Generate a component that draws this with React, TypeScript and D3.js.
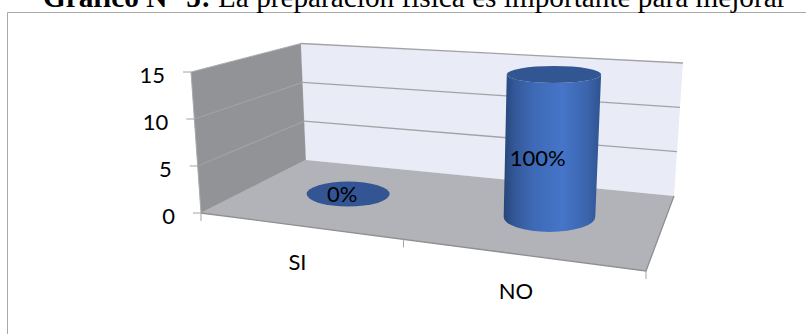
import React from "react";
import * as d3 from "d3";

// Chart content
const categories = ["SI", "NO"];
const values = [0, 15];
const percentLabels = ["0%", "100%"];
const yTicks = [0, 5, 10, 15];
const titleBold = "Gráfico N° 5:";
const titleRest = " La preparación física es importante para mejorar";

// Box corners of the 3D plot: f = front, b = back, l = left, r = right
const floorCorners = { fl: [201, 213], fr: [646, 271], bl: [306, 160], br: [674, 196] };
const topCorners = { fl: [191, 72], fr: [655, 104], bl: [301, 43.5], br: [683, 63] };

const xDepth = d3.scalePoint<string>().domain(categories).range([0.222, 0.722]);
const level = d3.scaleLinear().domain([0, 15]).range([0, 1]);
const lerp = (a: number, b: number, t: number) => a + (b - a) * t;

// Bilinear position within the box: u runs left to right, v front to back
function project(u: number, v: number, value: number): [number, number] {
  const plane = (c: typeof floorCorners) => {
    const fx = lerp(c.fl[0], c.fr[0], u);
    const fy = lerp(c.fl[1], c.fr[1], u);
    const bx = lerp(c.bl[0], c.br[0], u);
    const by = lerp(c.bl[1], c.br[1], u);
    return [lerp(fx, bx, v), lerp(fy, by, v)];
  };
  const lo = plane(floorCorners);
  const hi = plane(topCorners);
  const t = level(value);
  return [lerp(lo[0], hi[0], t), lerp(lo[1], hi[1], t)];
}

const line = d3.line();
const quad = (pts: [number, number][]) => line(pts) + "Z";

const labelFont = "Lato, 'Open Sans', sans-serif";
const labelSize = 22;
const gridColor = "#a3a3a6";
const depthV = 0.55;
const rxScale = d3.scaleLinear().domain([0.222, 0.722]).range([41.5, 45.8]);
const ryScale = d3.scaleLinear().domain([0.222, 0.722]).range([12.5, 15]);

const xTickU = [0, 0.455, 1];
const catLabelPos = [
  [297.5, 270],
  [516, 299],
];
const valueLabelOffset = [
  [-6, 7.5],
  [-14, 20],
];

function Cylinder({ u, value }: { u: number; value: number }) {
  const [bx, by] = project(u, depthV, 0);
  const [tx, ty] = project(u, depthV, value);
  const rx = rxScale(u);
  const ry = ryScale(u);
  if (value === 0) return <ellipse cx={bx} cy={by} rx={rx} ry={ry} fill="#335593" />;
  const trx = rx * 1.03;
  const tRy = ry * 0.57;
  const bodyD =
    `M${tx - trx},${ty} L${bx - rx},${by} ` +
    `A${rx},${ry} 0 0 0 ${bx + rx},${by} ` +
    `L${tx + trx},${ty} ` +
    `A${trx},${tRy} 0 0 1 ${tx - trx},${ty} Z`;
  return (
    <g>
      <path d={bodyD} fill="url(#cylinderShade)" />
      <ellipse cx={tx} cy={ty} rx={trx} ry={tRy} fill="#325692" />
    </g>
  );
}

export default function App() {
  const wallGrid = yTicks.filter((t) => t > 0 && t < 15);
  return (
    <svg
      width={806}
      height={334}
      viewBox="0 0 806 334"
      style={{ position: "absolute", left: 0, top: 0, background: "#fff" }}
    >
      <defs>
        <linearGradient id="cylinderShade" x1="0" x2="1" y1="0" y2="0">
          <stop offset="0" stopColor="#264679" />
          <stop offset="0.12" stopColor="#34599a" />
          <stop offset="0.3" stopColor="#3d69b5" />
          <stop offset="0.6" stopColor="#4675c9" />
          <stop offset="0.85" stopColor="#3b65ad" />
          <stop offset="1" stopColor="#2f5390" />
        </linearGradient>
      </defs>

      {/* Chart frame */}
      <path d="M7.5,334 V12.5 H806" fill="none" stroke="#a9a9a9" strokeWidth={1} />

      {/* Walls */}
      <path
        d={quad([project(0, 0, 0), project(0, 0, 15), project(0, 1, 15), project(0, 1, 0)])}
        fill="#929397"
        stroke="#a9aaad"
        strokeWidth={1}
      />
      <path
        d={quad([project(0, 1, 0), project(0, 1, 15), project(1, 1, 15), project(1, 1, 0)])}
        fill="#e9ebf6"
      />

      {/* Gridlines */}
      {wallGrid.map((t) => (
        <path
          key={`l${t}`}
          d={line([project(0, 0, t), project(0, 1, t)]) ?? ""}
          stroke="#a1a2a4"
          strokeWidth={1.2}
          fill="none"
        />
      ))}
      {yTicks
        .filter((t) => t > 0)
        .map((t) => (
          <path
            key={`b${t}`}
            d={line([project(0, 1, t), project(1, 1, t)]) ?? ""}
            stroke={gridColor}
            strokeWidth={1.3}
            fill="none"
          />
        ))}

      {/* Floor */}
      <path
        d={quad([project(0, 0, 0), project(1, 0, 0), project(1, 1, 0), project(0, 1, 0)])}
        fill="#b1b3b8"
      />
      <path
        d={line([project(0, 0, 0), project(1, 0, 0), project(1, 1, 0)]) ?? ""}
        stroke="#8f8f91"
        strokeWidth={1.3}
        fill="none"
      />

      {/* Value axis */}
      {yTicks.map((t) => {
        const [x, y] = project(0, 0, t);
        return (
          <g key={t}>
            <line x1={x - 8} x2={x} y1={y} y2={y} stroke="#a3a3a3" strokeWidth={1} />
            <text
              x={x - 26}
              y={y + 10.5}
              textAnchor="end"
              fontFamily={labelFont}
              fontSize={labelSize}
              fill="#000"
            >
              {t}
            </text>
          </g>
        );
      })}

      {/* Category ticks */}
      {xTickU.map((u) => {
        const [x, y] = project(u, 0, 0);
        return <line key={u} x1={x} x2={x} y1={y} y2={y + 8} stroke="#a3a3a3" strokeWidth={1} />;
      })}
      {categories.map((c, i) => (
        <text
          key={c}
          x={catLabelPos[i][0]}
          y={catLabelPos[i][1]}
          textAnchor="middle"
          fontFamily={labelFont}
          fontSize={labelSize}
          fill="#000"
        >
          {c}
        </text>
      ))}

      {/* Bars and data labels */}
      {categories.map((c, i) => (
        <Cylinder key={c} u={xDepth(c) as number} value={values[i]} />
      ))}
      {categories.map((c, i) => {
        const [x, y] = project(xDepth(c) as number, depthV, values[i] / 2);
        return (
          <text
            key={c}
            x={x + valueLabelOffset[i][0]}
            y={y + valueLabelOffset[i][1]}
            textAnchor="middle"
            fontFamily={labelFont}
            fontSize={labelSize}
            fill="#000"
          >
            {percentLabels[i]}
          </text>
        );
      })}

      {/* Title */}
      <text x={43} y={7} fontFamily="'Liberation Serif', serif" fontSize={29.25} fill="#000">
        <tspan fontWeight="bold">{titleBold}</tspan>
        <tspan>{titleRest}</tspan>
      </text>
    </svg>
  );
}
